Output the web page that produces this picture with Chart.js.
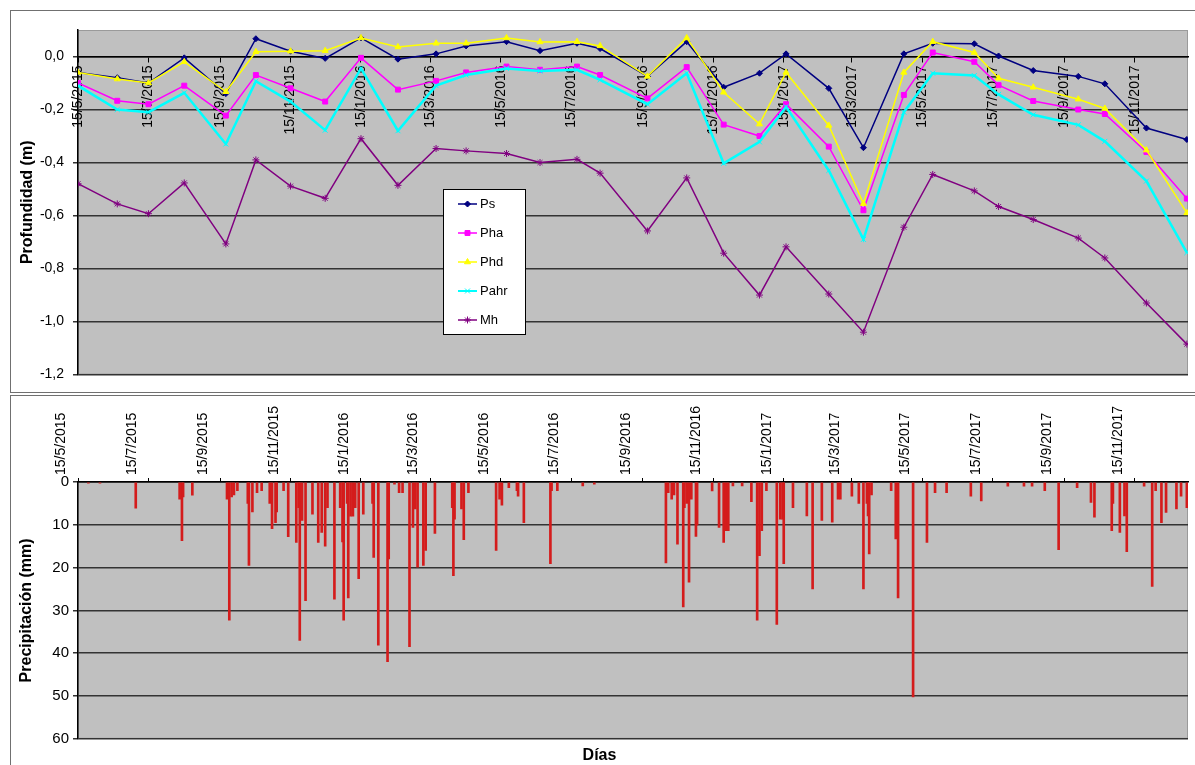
<!DOCTYPE html>
<html>
<head>
<meta charset="utf-8">
<script src="https://cdn.jsdelivr.net/npm/chart.js@4.4.1/dist/chart.umd.min.js"></script>
<style>
  body { margin: 0; background: #fff; width: 1195px; height: 765px; overflow: hidden; position: relative; }
  .box { position: absolute; border: 1px solid #707070; }
  canvas { position: absolute; left: 0; top: 0; }
</style>
</head>
<body>
<div class="box" style="left:10px;top:10px;width:1200px;height:381px;">
  <canvas id="depthChart" width="1184" height="381"></canvas>
</div>
<div class="box" style="left:10px;top:395px;width:1200px;height:400px;">
  <canvas id="rainChart" width="1184" height="369"></canvas>
</div>

<script>
// ---- data ----
const tickLabels = ["15/5/2015", "15/7/2015", "15/9/2015", "15/11/2015", "15/1/2016", "15/3/2016",
  "15/5/2016", "15/7/2016", "15/9/2016", "15/11/2016", "15/1/2017", "15/3/2017",
  "15/5/2017", "15/7/2017", "15/9/2017", "15/11/2017"];
const depthTicks = [-1.2, -1.0, -0.8, -0.6, -0.4, -0.2, 0.0];

const sampleDates = ["15/5/2015", "18/6/2015", "15/7/2015", "15/8/2015", "20/9/2015", "16/10/2015",
  "15/11/2015", "15/12/2015", "15/1/2016", "16/2/2016", "20/3/2016", "15/4/2016", "20/5/2016",
  "18/6/2016", "20/7/2016", "9/8/2016", "19/9/2016", "23/10/2016", "24/11/2016", "25/12/2016",
  "17/1/2017", "23/2/2017", "25/3/2017", "29/4/2017", "24/5/2017", "29/6/2017", "20/7/2017",
  "19/8/2017", "27/9/2017", "20/10/2017", "25/11/2017", "30/12/2017"];

const ps = [-0.06, -0.08, -0.10, -0.005, -0.14, 0.067, 0.02, -0.007, 0.07, -0.01, 0.01, 0.04, 0.056,
  0.022, 0.05, 0.03, -0.075, 0.056, -0.116, -0.063, 0.01, -0.12, -0.344, 0.01, 0.05, 0.048, 0.002,
  -0.053, -0.075, -0.103, -0.27, -0.313];
const pha = [-0.10, -0.167, -0.18, -0.11, -0.223, -0.07, -0.12, -0.17, -0.005, -0.125, -0.092, -0.06,
  -0.038, -0.05, -0.038, -0.07, -0.158, -0.04, -0.257, -0.30, -0.18, -0.34, -0.58, -0.145, 0.015,
  -0.02, -0.108, -0.168, -0.20, -0.217, -0.36, -0.536];
const phd = [-0.06, -0.085, -0.10, -0.02, -0.133, 0.018, 0.02, 0.022, 0.07, 0.036, 0.05, 0.05, 0.07,
  0.055, 0.056, 0.04, -0.075, 0.07, -0.135, -0.255, -0.06, -0.26, -0.555, -0.06, 0.056, 0.015,
  -0.082, -0.116, -0.161, -0.196, -0.353, -0.59];
const pahr = [-0.11, -0.20, -0.21, -0.137, -0.33, -0.093, -0.17, -0.278, -0.045, -0.28, -0.11, -0.07,
  -0.045, -0.055, -0.05, -0.088, -0.18, -0.063, -0.403, -0.322, -0.19, -0.43, -0.69, -0.21, -0.063,
  -0.072, -0.143, -0.22, -0.258, -0.32, -0.47, -0.74];
const mh = [-0.48, -0.556, -0.593, -0.477, -0.707, -0.39, -0.489, -0.535, -0.31, -0.486, -0.347,
  -0.356, -0.366, -0.40, -0.388, -0.44, -0.658, -0.458, -0.742, -0.90, -0.718, -0.896, -1.04,
  -0.644, -0.445, -0.507, -0.566, -0.615, -0.685, -0.76, -0.93, -1.085];

// daily rain, only the days with rain
const rainDates = [
  "24/5/2015", "3/6/2015", "4/7/2015", "11/8/2015", "13/8/2015", "14/8/2015", "22/8/2015",
  "21/9/2015", "23/9/2015", "25/9/2015", "27/9/2015", "30/9/2015",
  "9/10/2015", "10/10/2015", "13/10/2015", "17/10/2015", "21/10/2015", "28/10/2015", "30/10/2015",
  "2/11/2015", "3/11/2015", "9/11/2015", "13/11/2015", "20/11/2015", "22/11/2015", "23/11/2015", "25/11/2015", "28/11/2015",
  "4/12/2015", "9/12/2015", "12/12/2015", "15/12/2015", "17/12/2015", "23/12/2015", "28/12/2015", "30/12/2015", "31/12/2015",
  "3/1/2016", "4/1/2016", "6/1/2016", "8/1/2016", "10/1/2016", "13/1/2016", "17/1/2016", "25/1/2016", "26/1/2016", "30/1/2016",
  "7/2/2016", "8/2/2016", "13/2/2016", "17/2/2016", "20/2/2016", "26/2/2016", "29/2/2016",
  "2/3/2016", "4/3/2016", "9/3/2016", "11/3/2016", "19/3/2016",
  "3/4/2016", "4/4/2016", "5/4/2016", "11/4/2016", "13/4/2016", "17/4/2016",
  "11/5/2016", "14/5/2016", "16/5/2016", "22/5/2016", "29/5/2016", "30/5/2016",
  "4/6/2016", "27/6/2016", "28/6/2016", "3/7/2016", "25/7/2016", "4/8/2016",
  "5/10/2016", "7/10/2016", "10/10/2016", "12/10/2016", "15/10/2016", "20/10/2016", "21/10/2016", "23/10/2016", "25/10/2016", "27/10/2016", "31/10/2016",
  "1/11/2016", "14/11/2016", "20/11/2016", "24/11/2016", "26/11/2016", "28/11/2016",
  "2/12/2016", "10/12/2016", "18/12/2016", "23/12/2016", "25/12/2016", "27/12/2016", "31/12/2016",
  "9/1/2017", "12/1/2017", "14/1/2017", "15/1/2017", "23/1/2017",
  "4/2/2017", "9/2/2017", "17/2/2017", "26/2/2017",
  "3/3/2017", "5/3/2017", "15/3/2017", "21/3/2017", "25/3/2017", "28/3/2017", "29/3/2017", "30/3/2017",
  "1/4/2017", "18/4/2017", "22/4/2017", "24/4/2017",
  "7/5/2017", "19/5/2017", "26/5/2017", "5/6/2017", "26/6/2017", "5/7/2017", "28/7/2017",
  "11/8/2017", "18/8/2017", "29/8/2017", "10/9/2017", "26/9/2017",
  "8/10/2017", "11/10/2017", "26/10/2017", "27/10/2017",
  "2/11/2017", "6/11/2017", "8/11/2017", "23/11/2017", "30/11/2017",
  "3/12/2017", "8/12/2017", "12/12/2017", "21/12/2017", "25/12/2017", "30/12/2017"];
const rainMm = [
  0.3, 0.3, 6.1, 4, 13.7, 3.5, 3.1,
  4, 32.3, 3.5, 3, 2,
  5, 19.5, 7, 2.5, 2, 5, 10.9,
  9.5, 7, 2, 12.8, 14.1, 6, 37, 9, 27.7,
  7.5, 14.1, 11.8, 15, 6, 27.4, 6, 14, 32.3,
  5, 27.1, 8, 8, 6, 22.6, 7.5, 5, 17.6, 38.1,
  42, 18, 0.5, 2.5, 2.5, 38.5, 10.6,
  6.3, 19.9, 19.5, 16, 12,
  6, 21.9, 8.7, 6.3, 13.5, 2.5,
  16, 4, 5.4, 1.3, 2, 3.3,
  9.5, 19.1, 2, 2, 0.9, 0.5,
  18.9, 2.5, 4, 3, 14.5, 29.2, 6, 5, 23.4, 4, 12.7,
  10, 2.1, 10.6, 14.1, 11.4, 11.4,
  0.9, 0.9, 4.6, 32.3, 17.2, 11.4, 2,
  33.3, 8.7, 8.7, 19.1, 6,
  7.9, 25, 9, 9.4,
  4, 4, 3.3, 5, 25, 5, 7.9, 16.8,
  3, 2, 13.3, 27.1,
  50.2, 14.1, 2.5, 2.5, 3.3, 4.4, 1,
  1, 1, 2, 15.8, 1.3,
  4.8, 8.2, 11.4, 5,
  11.8, 7.9, 16.3, 1, 24.4,
  2, 9.5, 7.1, 6.3, 3.3, 6];

// ---- helpers ----
const FONT = "'Liberation Sans', Arial, sans-serif";
Chart.defaults.font.family = FONT;
Chart.defaults.color = "#000";

function toDay(s) {
  const [d, m, y] = s.split("/").map(Number);
  return Date.UTC(y, m - 1, d) / 86400000;
}

const xMin = toDay("15/5/2015");
const xMax = toDay("31/12/2017");
const tickDays = tickLabels.map(toDay);
const sampleDays = sampleDates.map(toDay);
const rainDays = rainDates.map(toDay);

function setDateTicks(scale) {
  scale.ticks = tickDays.map((v) => ({ value: v }));
}

function fmtDepth(v) {
  return (Math.abs(v) < 1e-9 ? 0 : v).toFixed(1).replace(".", ",");
}

// gray plot area
const plotBg = {
  id: "plotBg",
  beforeDraw(chart) {
    const { ctx, chartArea: a } = chart;
    ctx.save();
    ctx.fillStyle = "#c0c0c0";
    ctx.fillRect(a.left, a.top, a.right - a.left, a.bottom - a.top);
    ctx.strokeStyle = "#9a9a9a";
    ctx.lineWidth = 1;
    ctx.strokeRect(a.left + 0.5, a.top + 0.5, a.right - a.left - 1, a.bottom - a.top - 1);
    ctx.restore();
  },
};

// boxed legend inside the plot, like the spreadsheet one
const boxLegend = {
  id: "boxLegend",
  afterDatasetsDraw(chart) {
    const ctx = chart.ctx;
    const x = 432, y = 178, w = 82, h = 145;
    ctx.save();
    ctx.fillStyle = "#fff";
    ctx.fillRect(x, y, w, h);
    ctx.strokeStyle = "#000";
    ctx.lineWidth = 1;
    ctx.strokeRect(x + 0.5, y + 0.5, w, h);
    chart.data.datasets.forEach((ds, i) => {
      const cy = y + 15 + i * 29;
      ctx.strokeStyle = ds.borderColor;
      ctx.lineWidth = Math.min(ds.borderWidth, 2);
      ctx.beginPath();
      ctx.moveTo(x + 15, cy);
      ctx.lineTo(x + 34, cy);
      ctx.stroke();
      ctx.fillStyle = ds.pointBackgroundColor;
      ctx.strokeStyle = ds.pointBorderColor;
      ctx.lineWidth = 1;
      if (Chart.helpers && Chart.helpers.drawPoint) {
        Chart.helpers.drawPoint(ctx, { pointStyle: ds.pointStyle, radius: ds.pointRadius, rotation: 0, borderWidth: 1 }, x + 24.5, cy);
      }
      ctx.fillStyle = "#000";
      ctx.font = "13px " + FONT;
      ctx.textBaseline = "middle";
      ctx.textAlign = "left";
      ctx.fillText(ds.label, x + 37, cy);
    });
    ctx.restore();
  },
};

function lineSeries(label, values, color, pointStyle, radius, width, order) {
  return {
    label,
    data: sampleDays.map((d, i) => ({ x: d, y: values[i] })),
    borderColor: color,
    backgroundColor: color,
    pointBackgroundColor: color,
    pointBorderColor: color,
    pointStyle,
    pointRadius: radius,
    pointBorderWidth: 1,
    borderWidth: width,
    tension: 0,
    fill: false,
    order,
  };
}

// ---- depth chart ----
new Chart(document.getElementById("depthChart"), {
  type: "line",
  data: {
    datasets: [
      lineSeries("Ps", ps, "#000080", "rectRot", 3, 1.5, 5),
      lineSeries("Pha", pha, "#ff00ff", "rect", 3.5, 1.5, 4),
      lineSeries("Phd", phd, "#ffff00", "triangle", 3.5, 1.5, 3),
      lineSeries("Pahr", pahr, "#00ffff", "crossRot", 3.5, 2.5, 2),
      lineSeries("Mh", mh, "#800080", "star", 3.5, 1.5, 1),
    ],
  },
  options: {
    responsive: false,
    animation: false,
    layout: { padding: { top: 19, right: 7, bottom: 11, left: 0 } },
    plugins: {
      legend: { display: false },
      tooltip: { enabled: false },
    },
    scales: {
      x: {
        type: "linear",
        min: xMin,
        max: xMax,
        position: { y: 0 },
        afterBuildTicks: setDateTicks,
        grid: { display: true, drawOnChartArea: false, drawTicks: true, tickLength: 5, color: "#000" },
        border: { display: true, color: "#000", width: 1.5 },
        ticks: {
          autoSkip: false,
          minRotation: 90,
          maxRotation: 90,
          padding: 4,
          font: { size: 14 },
          callback: (v, i) => tickLabels[i],
        },
      },
      y: {
        min: -1.2,
        max: 0.1,
        afterFit: (s) => { s.width = 67; },
        afterBuildTicks: (s) => { s.ticks = depthTicks.map((v) => ({ value: v })); },
        ticks: { padding: 9, font: { size: 14 }, callback: fmtDepth },
        grid: { color: "#333", lineWidth: 1.5, tickLength: 5 },
        border: { color: "#000", width: 1.5 },
        title: {
          display: true,
          text: "Profundidad (m)",
          font: { size: 16, weight: "bold" },
          padding: { top: 7, bottom: 0 },
        },
      },
    },
  },
  plugins: [plotBg, boxLegend],
});

// ---- rain chart ----
new Chart(document.getElementById("rainChart"), {
  type: "bar",
  data: {
    datasets: [
      {
        label: "Precipitación",
        data: rainDays.map((d, i) => ({ x: d, y: rainMm[i] })),
        backgroundColor: "#d41c1c",
        borderWidth: 0,
        barThickness: 2,
        grouped: false,
      },
    ],
  },
  options: {
    responsive: false,
    animation: false,
    layout: { padding: { top: 0, right: 7, bottom: 0, left: 0 } },
    plugins: {
      legend: { display: false },
      tooltip: { enabled: false },
      title: {
        display: true,
        text: "Días",
        position: "bottom",
        color: "#000",
        font: { size: 16, weight: "bold" },
        padding: { top: 7, bottom: 0 },
      },
    },
    scales: {
      x: {
        type: "linear",
        position: "top",
        min: xMin,
        max: xMax,
        offset: false,
        afterFit: (s) => { s.height = 86; },
        afterBuildTicks: setDateTicks,
        grid: { display: true, offset: false, drawOnChartArea: false, drawTicks: true, tickLength: 4, color: "#000" },
        border: { display: true, color: "#000", width: 1.5 },
        ticks: {
          autoSkip: false,
          minRotation: 90,
          maxRotation: 90,
          padding: 3,
          font: { size: 14 },
          callback: (v, i) => tickLabels[i],
        },
      },
      y: {
        reverse: true,
        min: 0,
        max: 60,
        afterFit: (s) => { s.width = 67; },
        ticks: { stepSize: 10, padding: 4, font: { size: 15 } },
        grid: { color: "#333", lineWidth: 1.5, tickLength: 5 },
        border: { color: "#000", width: 1.5 },
        title: {
          display: true,
          text: "Precipitación (mm)",
          font: { size: 16, weight: "bold" },
          padding: { top: 6, bottom: 0 },
        },
      },
    },
  },
  plugins: [plotBg],
});
</script>
</body>
</html>
